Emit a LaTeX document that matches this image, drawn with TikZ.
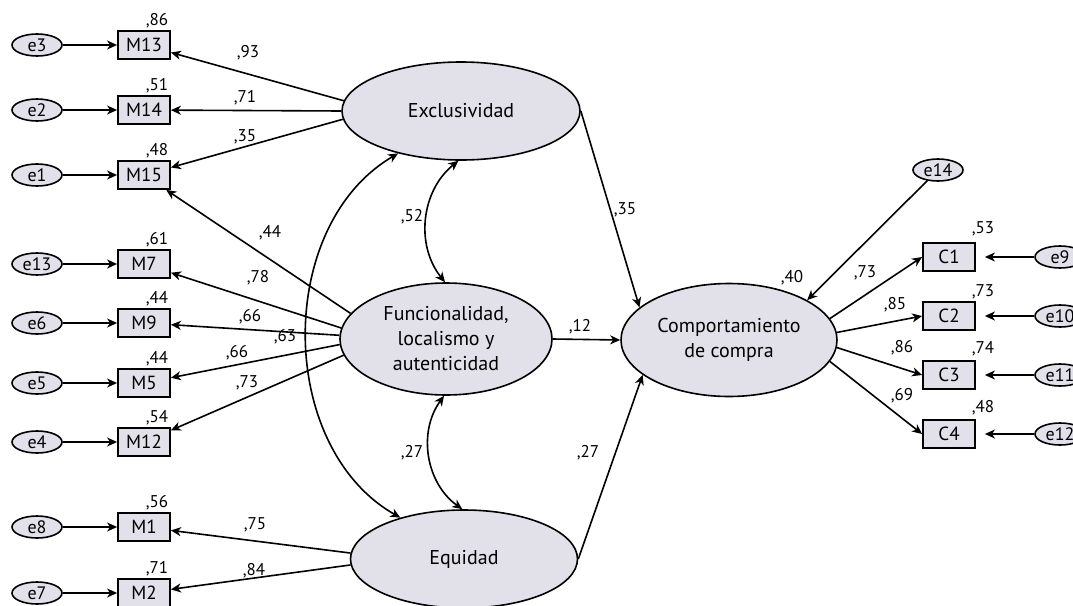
\documentclass[tikz,border=0pt]{standalone}
\usepackage{fontspec}
\setmainfont{PT Sans}
\usetikzlibrary{shapes.geometric,arrows.meta}
\definecolor{latfill}{RGB}{226,225,234}

\begin{document}
\begin{tikzpicture}[x=1pt,y=-1pt,
    >={Stealth[length=10pt,width=9pt,inset=3pt]},
    latent/.style={ellipse, draw, fill=latfill, line width=1.6pt, inner sep=0pt, align=center, font=\fontsize{20}{25}\selectfont},
    obs/.style={rectangle, draw, fill=latfill, line width=1.8pt, minimum width=52pt, minimum height=28pt, inner sep=0pt, font=\fontsize{19}{20}\selectfont},
    err/.style={ellipse, draw, fill=latfill, line width=1.6pt, minimum width=50pt, minimum height=22pt, inner sep=0pt, font=\fontsize{18}{18}\selectfont},
    lbl/.style={inner sep=0pt, font=\fontsize{17}{17}\selectfont},
    load/.style={line width=1.6pt, ->},
    cov/.style={line width=1.6pt, <->}]
    \useasboundingbox (0,0) rectangle (1073,605);

    % Latent factors
    \node[latent, minimum width=238pt, minimum height=98pt] (excl) at (461,111) {Exclusividad};
    \node[latent, minimum width=212pt, minimum height=112pt] (func) at (446,339) {Funcionalidad,\\localismo y\\autenticidad};
    \node[latent, minimum width=227pt, minimum height=98pt] (equi) at (464,559) {Equidad};
    \node[latent, minimum width=216pt, minimum height=113pt] (comp) at (729,340) {Comportamiento\\de compra};

    % Indicators of the factors
    \node[obs] (m13) at (144,45) {M13};
    \node[obs] (m14) at (144,110) {M14};
    \node[obs] (m15) at (144,175) {M15};
    \node[obs] (m7) at (144,264) {M7};
    \node[obs] (m9) at (144,323) {M9};
    \node[obs] (m5) at (144,383) {M5};
    \node[obs] (m12) at (144,442) {M12};
    \node[obs] (m1) at (144,527) {M1};
    \node[obs] (m2) at (144,593) {M2};
    \node[obs] (c1) at (949,257) {C1};
    \node[obs] (c2) at (949,316) {C2};
    \node[obs] (c3) at (949,375) {C3};
    \node[obs] (c4) at (949,434) {C4};

    % Error terms
    \node[err] (e3) at (37,45) {e3};
    \node[err] (e2) at (37,110) {e2};
    \node[err] (e1) at (37,175) {e1};
    \node[err] (e13) at (37,264) {e13};
    \node[err] (e6) at (37,323) {e6};
    \node[err] (e5) at (37,383) {e5};
    \node[err] (e4) at (37,442) {e4};
    \node[err] (e8) at (37,527) {e8};
    \node[err] (e7) at (37,593) {e7};
    \node[err] (e14) at (938,170) {e14};
    \node[err] (e9) at (1060,257) {e9};
    \node[err] (e10) at (1060,316) {e10};
    \node[err] (e11) at (1060,375) {e11};
    \node[err] (e12) at (1060,434) {e12};

    % Errors to indicators
    \draw[load] (e3) -- (m13);
    \draw[load] (e2) -- (m14);
    \draw[load] (e1) -- (m15);
    \draw[load] (e13) -- (m7);
    \draw[load] (e6) -- (m9);
    \draw[load] (e5) -- (m5);
    \draw[load] (e4) -- (m12);
    \draw[load] (e8) -- (m1);
    \draw[load] (e7) -- (m2);
    \draw[load, shorten >=9pt] (e9) -- (c1);
    \draw[load, shorten >=9pt] (e10) -- (c2);
    \draw[load, shorten >=9pt] (e11) -- (c3);
    \draw[load, shorten >=9pt] (e12) -- (c4);
    \draw[load] (e14) -- (comp.27);

    % Factor loadings
    \draw[load] (excl.175) -- (m13);
    \draw[load] (excl.180) -- (m14);
    \draw[load] (excl.184) -- (m15);
    \draw[load] (func.165) -- (m15);
    \draw[load] (func.174) -- (m7);
    \draw[load] (func.178) -- (m9);
    \draw[load] (func.183) -- (m5);
    \draw[load] (func.189) -- (m12);
    \draw[load] (equi.177) -- (m1);
    \draw[load] (equi.183) -- (m2);
    \draw[load] (comp.12) -- (c1.west);
    \draw[load] (comp.4) -- (c2.west);
    \draw[load] (comp.-4) -- (c3.west);
    \draw[load] (comp.-12) -- (c4.west);

    % Structural paths
    \draw[load] (excl.east) -- (comp.160);
    \draw[load] (func.east) -- (comp.west);
    \draw[load] (equi.east) -- (comp.202);

    % Covariances
    \draw[cov] (excl.267) to[bend right=45] (func.91);
    \draw[cov] (func.268) to[bend right=45] (equi.92);
    \draw[cov] (excl.214) to[bend right=60] (equi.147);

    % Squared multiple correlations
    \node[lbl] (r13) at (157,21) {,86};
    \node[lbl] (r14) at (157,86) {,51};
    \node[lbl] (r15) at (157,151) {,48};
    \node[lbl] (r7) at (157,240) {,61};
    \node[lbl] (r9) at (157,299) {,44};
    \node[lbl] (r5) at (157,359) {,44};
    \node[lbl] (r12) at (157,418) {,54};
    \node[lbl] (r1) at (157,503) {,56};
    \node[lbl] (r2) at (157,569) {,71};
    \node[lbl] (rc1) at (983,229) {,53};
    \node[lbl] (rc2) at (983,292) {,73};
    \node[lbl] (rc3) at (983,349) {,74};
    \node[lbl] (rc4) at (983,408) {,48};
    \node[lbl] (rcomp) at (792,278) {,40};

    % Loading values
    \node[lbl] (w13) at (248,53) {,93};
    \node[lbl] (w14) at (245,98) {,71};
    \node[lbl] (w15) at (245,137) {,35};
    \node[lbl] (wf15) at (270,233) {,44};
    \node[lbl] (w7) at (258,278) {,78};
    \node[lbl] (w9) at (250,317) {,66};
    \node[lbl] (wf) at (285,337) {,63};
    \node[lbl] (w5) at (237,353) {,66};
    \node[lbl] (w12) at (247,383) {,73};
    \node[lbl] (w1) at (255,525) {,75};
    \node[lbl] (w2) at (254,571) {,84};
    \node[lbl] (wc1) at (865,273) {,73};
    \node[lbl] (wc2) at (895,305) {,85};
    \node[lbl] (wc3) at (902,348) {,86};
    \node[lbl] (wc4) at (902,396) {,69};

    % Path and covariance values
    \node[lbl] (b1) at (625,210) {,35};
    \node[lbl] (b2) at (580,327) {,12};
    \node[lbl] (b3) at (588,453) {,27};
    \node[lbl] (k1) at (412,217) {,52};
    \node[lbl] (k2) at (412,453) {,27};
  \end{tikzpicture}
\end{document}
